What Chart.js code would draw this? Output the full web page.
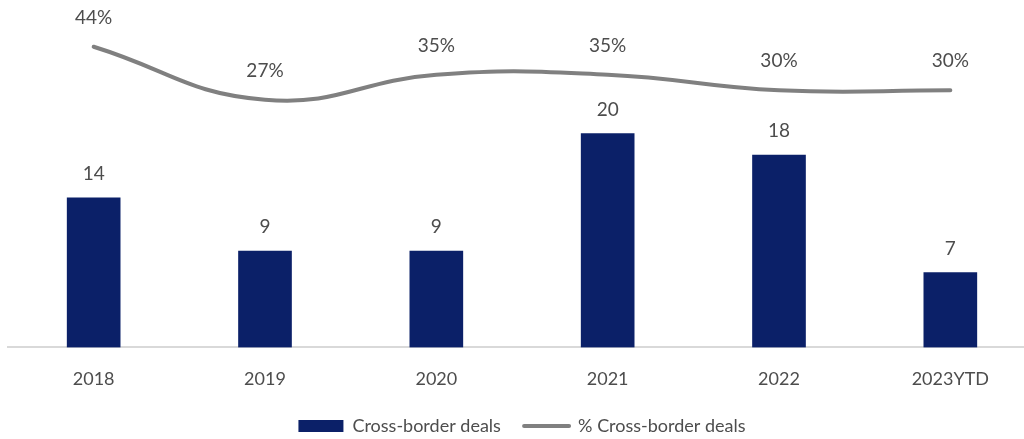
<!DOCTYPE html>
<html>
<head>
<meta charset="utf-8">
<script src="https://cdn.jsdelivr.net/npm/chart.js@4"></script>
<style>
  html, body { margin: 0; padding: 0; background: #fff; overflow: hidden; }
  #wrap { width: 1044px; height: 439px; position: relative; }
</style>
</head>
<body>
<div id="wrap"><canvas id="myChart"></canvas></div>
<script>
'use strict';

const years = ['2018', '2019', '2020', '2021', '2022', '2023YTD'];
const deals = [14, 9, 9, 20, 18, 7];
const dealsPct = [44, 27, 35, 35, 30, 30];

const navy = '#0b2068';
const grey = '#808080';
const textColor = '#4d4d4d';
const fontFamily = 'Lato, "Open Sans", sans-serif';

// value labels above bars and line points
const valueLabels = {
  id: 'valueLabels',
  afterDatasetsDraw(chart) {
    const { ctx } = chart;
    ctx.save();
    ctx.font = '19px ' + fontFamily;
    ctx.fillStyle = textColor;
    ctx.textAlign = 'center';
    ctx.textBaseline = 'middle';
    chart.data.datasets.forEach((ds, di) => {
      const meta = chart.getDatasetMeta(di);
      meta.data.forEach((el, i) => {
        const txt = ds.type === 'line' ? ds.data[i] + '%' : String(ds.data[i]);
        const off = ds.type === 'line' ? 29 : 24;
        ctx.fillText(txt, el.x, el.y - off);
      });
    });
    ctx.restore();
  }
};

const data = {
  labels: years,
  datasets: [
    {
      type: 'line',
      label: '% Cross-border deals',
      data: dealsPct,
      yAxisID: 'y1',
      borderColor: grey,
      borderWidth: 4,
      borderCapStyle: 'round',
      pointRadius: 0,
      tension: 0.45,
      order: 0
    },
    {
      type: 'bar',
      label: 'Cross-border deals',
      data: deals,
      yAxisID: 'y',
      backgroundColor: navy,
      barThickness: 53,
      order: 1
    }
  ]
};

const config = {
  data,
  options: {
    responsive: true,
    maintainAspectRatio: false,
    animation: false,
    layout: { padding: { left: 8, right: 8, top: 0, bottom: -6 } },
    plugins: {
      tooltip: { enabled: false },
      legend: {
        position: 'bottom',
        labels: {
          usePointStyle: true,
          pointStyleWidth: 45,
          boxHeight: 12,
          padding: 14,
          color: textColor,
          font: { family: fontFamily, size: 18 },
          generateLabels(chart) {
            return [
              { text: 'Cross-border deals  ', pointStyle: 'rect', fillStyle: navy, strokeStyle: navy, lineWidth: 0, fontColor: textColor, datasetIndex: 1 },
              { text: '% Cross-border deals', pointStyle: 'line', fillStyle: grey, strokeStyle: grey, lineWidth: 4, lineCap: 'round', fontColor: textColor, datasetIndex: 0 }
            ];
          }
        }
      }
    },
    scales: {
      x: {
        grid: { display: false },
        border: { color: '#d9d9d9', width: 2 },
        ticks: { color: textColor, font: { family: fontFamily, size: 18 }, padding: 13 }
      },
      y: {
        display: false,
        min: 0,
        max: 32.5
      },
      y1: {
        display: false,
        min: -52.5,
        max: 59
      }
    }
  },
  plugins: [valueLabels]
};

const myChart = new Chart(document.getElementById('myChart'), config);
</script>
</body>
</html>
